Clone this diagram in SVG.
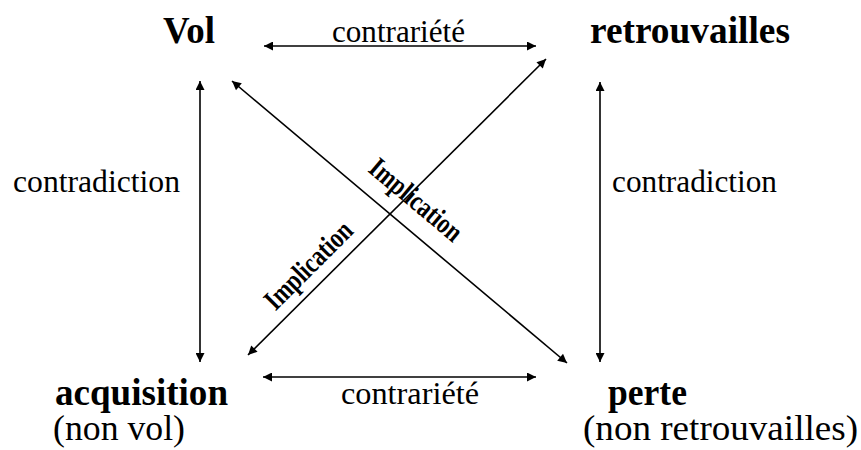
<svg xmlns="http://www.w3.org/2000/svg" width="861" height="450" viewBox="0 0 861 450">
<defs>
<marker id="ah" viewBox="0 0 10 10" refX="10" refY="5" markerWidth="11" markerHeight="9" markerUnits="userSpaceOnUse" orient="auto-start-reverse">
<path d="M0,0 L10,5 L0,10 z" fill="#000"/>
</marker>
<style>
text{fill:#000}
.b{font-family:"Liberation Serif",serif;font-weight:bold;font-size:37px}
.n{font-family:"Liberation Serif",serif;font-weight:normal;font-size:32px}
.p{font-family:"Liberation Serif",serif;font-weight:normal;font-size:36px}
.i{font-family:"Liberation Serif",serif;font-weight:bold;font-size:29px}
.c{stroke:#000;stroke-width:1.6;fill:none;marker-start:url(#ah);marker-end:url(#ah)}
</style>
</defs>
<rect width="861" height="450" fill="#fff"/>
<g id="connectors">
<line class="c" x1="264" y1="46" x2="536" y2="46"/>
<line class="c" x1="263" y1="377" x2="536" y2="377"/>
<line class="c" x1="200" y1="81" x2="200" y2="362"/>
<line class="c" x1="600" y1="82" x2="600" y2="362"/>
<line class="c" x1="232" y1="81" x2="567" y2="363"/>
<line class="c" x1="248" y1="355" x2="546" y2="59"/>
<text class="n" x="332" y="42" textLength="133" lengthAdjust="spacingAndGlyphs">contrariété</text>
<text class="n" x="341" y="404" textLength="138" lengthAdjust="spacingAndGlyphs">contrariété</text>
<text class="n" x="13" y="192" textLength="167" lengthAdjust="spacingAndGlyphs">contradiction</text>
<text class="n" x="612" y="192" textLength="165" lengthAdjust="spacingAndGlyphs">contradiction</text>
<text class="i" transform="translate(410,207) rotate(40)" text-anchor="middle" textLength="112" lengthAdjust="spacingAndGlyphs">Implication</text>
<text class="i" transform="translate(315,272) rotate(-45)" text-anchor="middle" textLength="112" lengthAdjust="spacingAndGlyphs">Implication</text>
</g>
<g id="vol">
<text class="b" x="163" y="43" textLength="52" lengthAdjust="spacingAndGlyphs">Vol</text>
</g>
<g id="retrouvailles">
<text class="b" x="590" y="43" textLength="200" lengthAdjust="spacingAndGlyphs">retrouvailles</text>
</g>
<g id="acquisition">
<text class="b" x="55" y="405" textLength="173" lengthAdjust="spacingAndGlyphs">acquisition</text>
<text class="p" x="53" y="440" textLength="132" lengthAdjust="spacingAndGlyphs">(non vol)</text>
</g>
<g id="perte">
<text class="b" x="608" y="405" textLength="79" lengthAdjust="spacingAndGlyphs">perte</text>
<text class="p" x="583" y="440" textLength="275" lengthAdjust="spacingAndGlyphs">(non retrouvailles)</text>
</g>
</svg>
